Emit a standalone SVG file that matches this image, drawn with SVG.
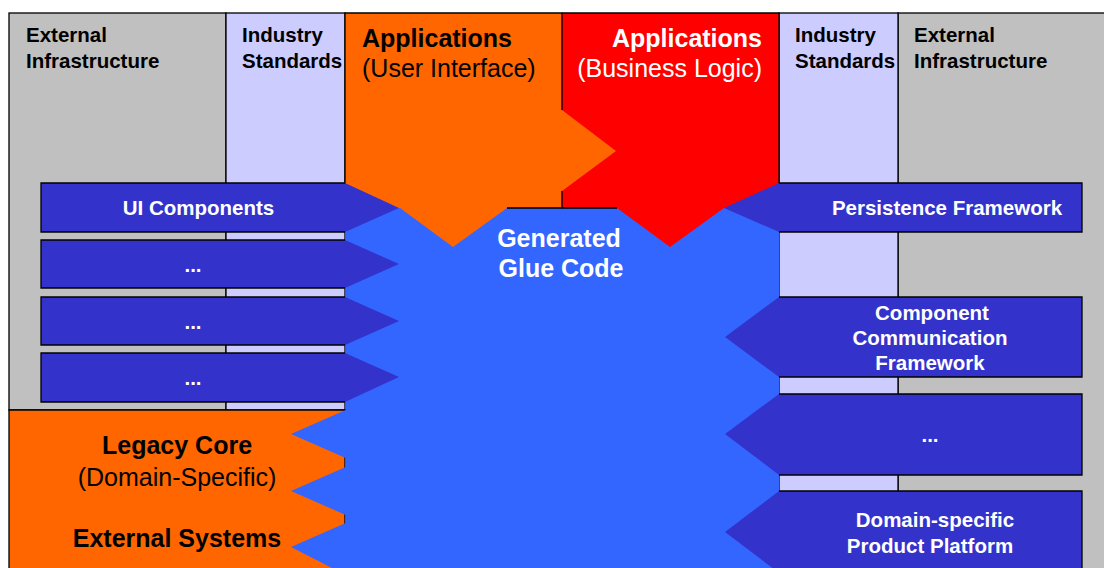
<svg xmlns="http://www.w3.org/2000/svg" width="1104" height="568" viewBox="0 0 1104 568">
  <style>
    .gray { fill: #C0C0C0; stroke: #000; stroke-width: 1.3; }
    .lav { fill: #CCCCFF; stroke: #000; stroke-width: 1.3; }
    .orange { fill: #FF6600; }
    .red { fill: #FF0000; }
    .edge { fill: none; stroke: #000; stroke-width: 1.3; }
    .dark { fill: #3333CC; }
    .glue { fill: #3366FF; }
    .lbl { font-family: "Liberation Sans", Arial, sans-serif; font-weight: bold; font-size: 20.5px; }
    .big { font-family: "Liberation Sans", Arial, sans-serif; font-size: 25px; }
    .b { font-weight: bold; }
    .w { fill: #FFFFFF; }
    .k { fill: #000000; }
    .mid { text-anchor: middle; }
    .end { text-anchor: end; }
  </style>

  <rect width="1104" height="568" fill="#FFFFFF"/>

  <!-- background columns -->
  <g id="ext-infra-left">
    <rect class="gray" x="9" y="13" width="217" height="397"/>
    <text class="lbl k" x="26" y="42">External</text>
    <text class="lbl k" x="26" y="68">Infrastructure</text>
  </g>
  <g id="standards-left">
    <rect class="lav" x="226" y="13" width="119" height="397"/>
    <text class="lbl k" x="242" y="42">Industry</text>
    <text class="lbl k" x="242" y="68">Standards</text>
  </g>
  <g id="ext-infra-right">
    <rect class="gray" x="898" y="13" width="210" height="560"/>
    <text class="lbl k" x="914" y="42">External</text>
    <text class="lbl k" x="914" y="68">Infrastructure</text>
  </g>
  <g id="standards-right">
    <rect class="lav" x="779" y="13" width="119" height="560"/>
    <text class="lbl k" x="795" y="42">Industry</text>
    <text class="lbl k" x="795" y="68">Standards</text>
  </g>

  <!-- legacy / external systems -->
  <g id="legacy-core">
    <rect class="orange" x="9" y="410" width="336" height="165"/>
    <path class="edge" d="M345,575 V410 H9 V575"/>
  </g>

  <!-- generated glue code -->
  <g id="glue-code">
    <path class="glue" d="M345.7,208 H779 V575 H345.7 L291,547 L345.7,523 V515 L291,491 L345.7,467 V458 L291,434 L345.7,410 Z"/>
  </g>

  <!-- application blocks, each with its outgoing flow -->
  <g id="app-logic">
    <path class="red" d="M562,13 H779 V208 H724 L670,247 L617,208 H562 Z"/>
    <path class="edge" d="M562,13 H779 V190 M562,208 H617"/>
  </g>
  <g id="app-ui">
    <path class="orange" d="M345,13 H562 V110 L616,151 L562,191 V208 H507 L453,247 L400,208 H345 Z"/>
    <path class="edge" d="M345,190 V13 H562 V110 M562,191 V208 H507"/>
  </g>

  <!-- labels on application and legacy blocks -->
  <g id="app-ui-label">
    <text class="big b k" x="362" y="47">Applications</text>
    <text class="big k" x="362" y="77">(User Interface)</text>
  </g>
  <g id="app-logic-label">
    <text class="big b w end" x="762" y="47">Applications</text>
    <text class="big w end" x="762" y="77">(Business Logic)</text>
  </g>
  <g id="legacy-label">
    <text class="big b k mid" x="177" y="454">Legacy Core</text>
    <text class="big k mid" x="177" y="486">(Domain-Specific)</text>
  </g>
  <g id="external-systems">
    <text class="big b k mid" x="177" y="547">External Systems</text>
  </g>
  <g id="glue-label">
    <text class="big b w mid" x="559" y="247">Generated</text>
    <text class="big b w mid" x="561" y="277">Glue Code</text>
  </g>

  <!-- arrows feeding the glue code from the left -->
  <g id="ui-components">
    <path class="dark" d="M41,183 H345 L399,208 L345,232 H41 Z"/>
    <path class="edge" d="M345,183 H41 V232 H345"/>
    <text class="lbl w mid" x="198.5" y="215">UI Components</text>
  </g>
  <g id="left-more-1">
    <path class="dark" d="M41,240 H345 L399,264 L345,288 H41 Z"/>
    <path class="edge" d="M345,240 H41 V288 H345"/>
    <text class="lbl w mid" x="193" y="272">...</text>
  </g>
  <g id="left-more-2">
    <path class="dark" d="M41,297 H345 L399,321 L345,345 H41 Z"/>
    <path class="edge" d="M345,297 H41 V345 H345"/>
    <text class="lbl w mid" x="193" y="329">...</text>
  </g>
  <g id="left-more-3">
    <path class="dark" d="M41,353 H345 L399,377 L345,402 H41 Z"/>
    <path class="edge" d="M345,353 H41 V402 H345"/>
    <text class="lbl w mid" x="193" y="385">...</text>
  </g>

  <!-- arrows feeding the glue code from the right -->
  <g id="persistence">
    <path class="dark" d="M1082,183 H779 L724,208 L779,232 H1082 Z"/>
    <path class="edge" d="M779,183 H1082 V232 H779"/>
    <text class="lbl w mid" x="947" y="215">Persistence Framework</text>
  </g>
  <g id="communication">
    <path class="dark" d="M1082,297 H779 L725,337 L779,377 H1082 Z"/>
    <path class="edge" d="M779,297 H1082 V377 H779"/>
    <text class="lbl w mid" x="932" y="320">Component</text>
    <text class="lbl w mid" x="930" y="345">Communication</text>
    <text class="lbl w mid" x="930" y="370">Framework</text>
  </g>
  <g id="right-more">
    <path class="dark" d="M1082,394 H779 L725,434 L779,475 H1082 Z"/>
    <path class="edge" d="M779,394 H1082 V475 H779"/>
    <text class="lbl w mid" x="930" y="442">...</text>
  </g>
  <g id="product-platform">
    <path class="dark" d="M1082,491 H779 L725,532 L779,573 H1082 Z"/>
    <path class="edge" d="M779,491 H1082 V573 H779"/>
    <text class="lbl w mid" x="935" y="527">Domain-specific</text>
    <text class="lbl w mid" x="930" y="553">Product Platform</text>
  </g>
</svg>
